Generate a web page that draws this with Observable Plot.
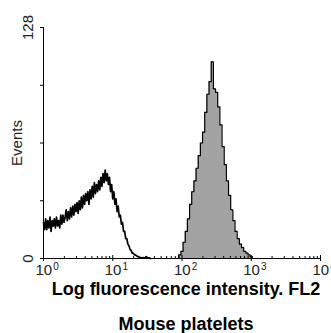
<!DOCTYPE html>
<html>
<head>
<meta charset="utf-8">
<script src="https://cdn.jsdelivr.net/npm/d3@7"></script>
<script src="https://cdn.jsdelivr.net/npm/@observablehq/plot@0.6"></script>
<style>
  html, body { margin: 0; padding: 0; background: #fff; }
  #wrap { position: relative; width: 331px; height: 333px; overflow: hidden; font-family: "Liberation Sans", Arial, sans-serif; }
  .cap { position: absolute; left: 40px; width: 292px; text-align: center; font-weight: bold; font-size: 18px; line-height: 1; color: #000; white-space: nowrap; }
</style>
</head>
<body>
<div id="wrap"></div>
<script>
// ---- data ----
const leftChannelsPerDecade = 64;
const leftFirstChannel = 0;
const leftCounts = [20, 16, 22, 16, 21, 17, 23, 15, 21, 18,
                    22, 17, 23, 18, 21, 17, 24, 19, 24, 20,
                    23, 27, 21, 26, 22, 28, 23, 29, 24, 30,
                    26, 31, 25, 32, 27, 34, 28, 35, 30, 36,
                    32, 37, 30, 38, 33, 40, 34, 42, 36, 41,
                    37, 43, 38, 45, 40, 47, 42, 49, 43, 47,
                    41, 45, 37, 41, 33, 37, 30, 33, 26, 29,
                    23, 24, 19, 20, 15, 15, 11, 11, 8, 7,
                    5, 4.5, 3, 3, 2, 2, 1.5, 1, 1, 0.5,
                    0.5, 0.3, 0.5, 0.3, 0.5, 1, 0.5, 0.3, 0.3, 0];
const rightChannelsPerDecade = 32;
const rightFirstChannel = 62;
const rightCounts = [0, 2, 4, 9, 15, 22, 30, 37, 43, 50,
                     57, 64, 70, 81, 91, 98, 109, 94, 92, 84,
                     74, 62, 52, 43, 35, 27, 21, 15, 11, 8,
                     6, 4, 3, 2, 1, 0];
const xTicksMajor = [1, 10, 100, 1000, 10000];
const xTicksMinor = [2,3,4,5,6,7,8,9, 20,30,40,50,60,70,80,90, 200,300,400,500,600,700,800,900, 2000,3000,4000,5000,6000,7000,8000,9000];
const yTicks = [0, 32, 64, 96, 128];
const yTickLabels = [0, 128];
const yLabel = "Events";
const xTitle = "Log fluorescence intensity. FL2";
const subTitle = "Mouse platelets";

const leftData = leftCounts.map((v, i) => ({x: 10 ** ((leftFirstChannel + i) / leftChannelsPerDecade), y: v}));
const rightData = rightCounts.map((v, i) => ({x: 10 ** ((rightFirstChannel + i) / rightChannelsPerDecade), y: v}));

const font = "Liberation Sans, Arial, sans-serif";

const chart = Plot.plot({
  width: 331,
  height: 280,
  marginLeft: 43,
  marginRight: 11,
  marginTop: 27,
  marginBottom: 22,
  style: {fontFamily: font, background: "#fff", color: "#000", overflow: "visible"},
  x: {type: "log", domain: [1, 10000]},
  y: {domain: [0, 128]},
  marks: [
    Plot.areaY(rightData, {x: "x", y: "y", curve: "step", fill: "#a3a3a3"}),
    Plot.line(rightData, {x: "x", y: "y", curve: "step", stroke: "#000", strokeWidth: 1.2}),
    Plot.line(leftData, {x: "x", y: "y", curve: "linear", stroke: "#000", strokeWidth: 1.7}),
    Plot.ruleX([1], {stroke: "#000"}),
    Plot.ruleY([0], {stroke: "#000"}),
    Plot.axisY({ticks: yTicks, tickSize: 3, tickFormat: () => "", label: null}),
    Plot.text(yTickLabels, {y: d => d, frameAnchor: "left", dx: -15, rotate: -90, text: d => String(d), fontSize: 15, textAnchor: "middle", lineAnchor: "middle", fill: "#222"}),
    Plot.text([yLabel], {y: [64], frameAnchor: "left", dx: -26, rotate: -90, text: d => d, fontSize: 15, textAnchor: "middle", lineAnchor: "middle", fill: "#222"}),
    Plot.axisX({ticks: xTicksMajor, tickSize: 3, tickPadding: 3, fontSize: 15, tickFormat: d => String(Math.round(Math.log10(d))), label: null}),
    Plot.axisX({ticks: xTicksMajor, tickSize: -3, tickFormat: () => "", label: null}),
    Plot.axisX({ticks: xTicksMinor, tickSize: -2, tickFormat: () => "", label: null})
  ]
});

// superscript exponents on the x tick labels
chart.querySelectorAll('g[aria-label="x-axis tick label"] text').forEach(t => {
  const e = t.textContent;
  if (!e) return;
  t.textContent = "10";
  t.setAttribute("text-anchor", "start");
  t.setAttribute("dx", "-8");
  t.setAttribute("fill", "#222");
  const s = document.createElementNS("http://www.w3.org/2000/svg", "tspan");
  s.setAttribute("font-size", "10");
  s.setAttribute("dy", "-5");
  s.setAttribute("dx", "1");
  s.textContent = e;
  t.appendChild(s);
});

const wrap = document.getElementById("wrap");
wrap.appendChild(chart);
const c1 = document.createElement("div");
c1.className = "cap"; c1.style.top = "280px"; c1.textContent = xTitle;
const c2 = document.createElement("div");
c2.className = "cap"; c2.style.top = "315px"; c2.textContent = subTitle;
wrap.appendChild(c1); wrap.appendChild(c2);
</script>
</body>
</html>
